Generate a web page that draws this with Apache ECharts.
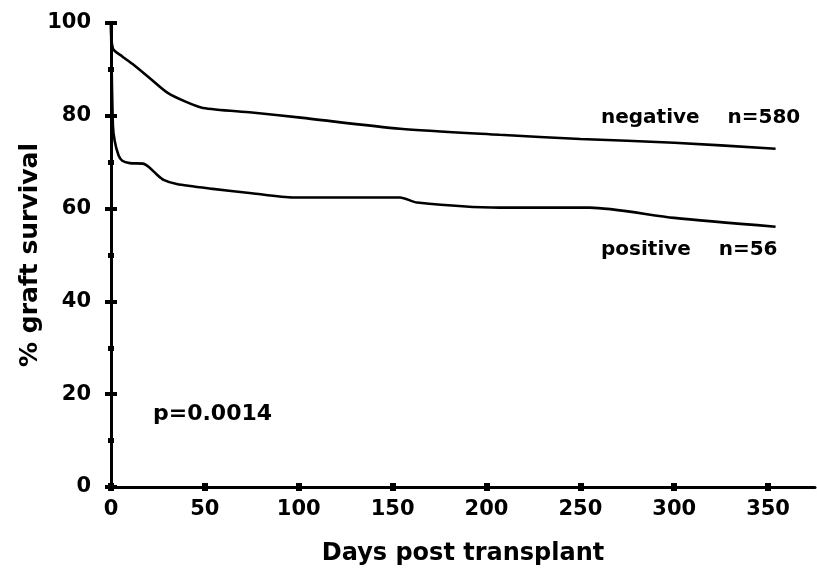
<!DOCTYPE html>
<html>
<head>
<meta charset="utf-8">
<script src="https://cdn.jsdelivr.net/npm/echarts@6/dist/echarts.min.js"></script>
<style>
html,body{margin:0;padding:0;background:#fff;}
#chart{width:817px;height:572px;}
</style>
</head>
<body>
<div id="chart"></div>
<script>
// Data
const negativeDays = [0, 1, 6, 12, 21, 30, 40, 49, 75, 101, 154, 207, 250, 300, 354];
const negativeSurvival = [100, 94.5, 92.8, 91, 88, 85, 83, 81.7, 80.7, 79.6, 77.2, 75.9, 75, 74.2, 72.9];
const positiveDays = [0, 1, 2, 4, 6, 10, 17, 20, 24, 28, 35, 53, 75, 97, 154, 163, 207, 255, 300, 354];
const positiveSurvival = [100, 78, 74.5, 71.5, 70.3, 69.8, 69.7, 69, 67.5, 66.2, 65.3, 64.3, 63.3, 62.4, 62.4, 61.3, 60.2, 60.2, 58, 56.1];
const xTicks = [0, 50, 100, 150, 200, 250, 300, 350];
const yTicks = [0, 20, 40, 60, 80, 100];
const yMinorTicks = [10, 30, 50, 70, 90];
const annotations = ['negative    n=580', 'positive    n=56', 'p=0.0014'];

const zip = (a, b) => a.map((v, i) => [v, b[i]]);
const FONT = '"DejaVu Sans", sans-serif';
const chart = echarts.init(document.getElementById('chart'), null, {renderer: 'canvas'});

const labelFont = {fontFamily: FONT, fontWeight: 'bold', fontSize: 21, color: '#000'};
const baseX = {type: 'value', min: 0, max: 375, interval: 50, splitLine: {show: false}};
const baseY = {type: 'value', min: 0, max: 100, interval: 10, splitLine: {show: false}};

chart.setOption({
  backgroundColor: '#fff',
  animation: false,
  grid: {left: 111, right: 2, top: 23, bottom: 85, containLabel: false},
  xAxis: [
    Object.assign({}, baseX, {
      name: 'Days post transplant', nameLocation: 'middle', nameGap: 55, nameMoveOverlap: false,
      nameTextStyle: {fontFamily: FONT, fontWeight: 'bold', fontSize: 24, color: '#000'},
      axisLine: {show: true, lineStyle: {color: '#000', width: 3}},
      axisTick: {show: true, length: 4, customValues: xTicks, lineStyle: {color: '#000', width: 6}},
      axisLabel: Object.assign({show: true, margin: 12, customValues: xTicks}, labelFont)
    }),
    Object.assign({}, baseX, {
      position: 'bottom',
      axisLine: {show: false},
      axisTick: {show: true, inside: true, length: 4, customValues: xTicks, lineStyle: {color: '#000', width: 6}},
      axisLabel: {show: false}
    })
  ],
  yAxis: [
    Object.assign({}, baseY, {
      name: '% graft survival', nameLocation: 'middle', nameGap: 68, nameRotate: 90, nameMoveOverlap: false,
      nameTextStyle: {fontFamily: FONT, fontWeight: 'bold', fontSize: 25, color: '#000'},
      axisLine: {show: true, lineStyle: {color: '#000', width: 3}},
      axisTick: {show: true, length: 6, customValues: yTicks, lineStyle: {color: '#000', width: 4}},
      axisLabel: Object.assign({show: true, margin: 20, customValues: yTicks}, labelFont)
    }),
    Object.assign({}, baseY, {
      position: 'left',
      axisLine: {show: false},
      axisTick: {show: true, inside: true, length: 6, customValues: yTicks, lineStyle: {color: '#000', width: 4}},
      axisLabel: {show: false}
    }),
    Object.assign({}, baseY, {
      position: 'left',
      axisLine: {show: false},
      axisTick: {show: true, length: 3, customValues: yMinorTicks, lineStyle: {color: '#000', width: 5}},
      axisLabel: {show: false}
    }),
    Object.assign({}, baseY, {
      position: 'left',
      axisLine: {show: false},
      axisTick: {show: true, inside: true, length: 3, customValues: yMinorTicks, lineStyle: {color: '#000', width: 5}},
      axisLabel: {show: false}
    })
  ],
  series: [
    {
      name: 'negative', type: 'line', data: zip(negativeDays, negativeSurvival),
      showSymbol: false, smooth: 0.25, lineStyle: {color: '#000', width: 2.6}
    },
    {
      name: 'positive', type: 'line', data: zip(positiveDays, positiveSurvival),
      showSymbol: false, smooth: 0.25, lineStyle: {color: '#000', width: 2.6}
    }
  ],
  graphic: [
    {type: 'text', left: 601, top: 108, style: {text: annotations[0], font: 'bold 20px ' + FONT, fill: '#000'}},
    {type: 'text', left: 601, top: 240, style: {text: annotations[1], font: 'bold 20px ' + FONT, fill: '#000'}},
    {type: 'text', left: 153, top: 403, style: {text: annotations[2], font: 'bold 22px ' + FONT, fill: '#000'}}
  ]
});
</script>
</body>
</html>
